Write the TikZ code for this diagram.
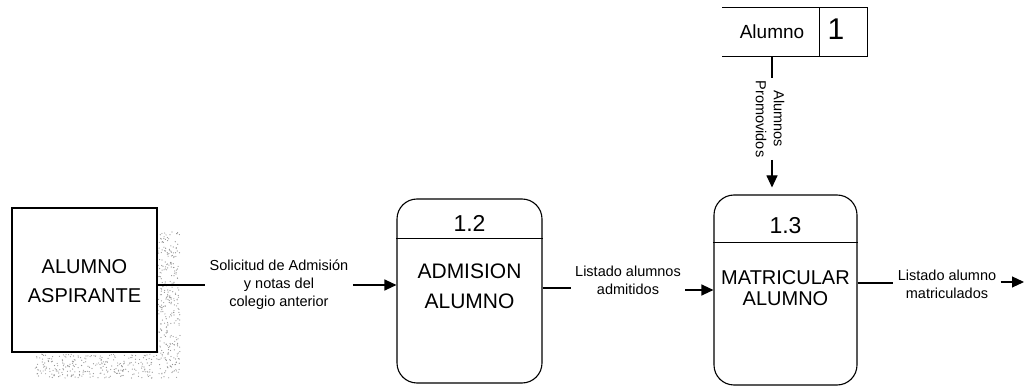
\documentclass[tikz,border=0pt]{standalone}
\usepackage{fontspec}
\setmainfont{Liberation Sans}
\usetikzlibrary{arrows.meta,calc}
\begin{document}
\begin{tikzpicture}[x=1pt,y=-1pt,
  line width=1.1pt,
  boxtxt/.style={font=\fontsize{20}{29}\selectfont,align=center,inner sep=0pt},
  numtxt/.style={font=\fontsize{23}{26}\selectfont,inner sep=0pt},
  lbl/.style={font=\fontsize{14.5}{18}\selectfont,align=center,inner sep=4pt},
  proc/.style={draw,rounded corners=20pt,inner sep=0pt},
  arr/.style={-{Triangle[length=12pt,width=11pt]}}]
\useasboundingbox (0,0) rectangle (1026,387);
% stipple shadow of the external entity
\pgfmathsetseed{7}
\foreach \i in {1,...,300}{\fill[black!42] ({158+22*rnd},{232+146*rnd}) circle (0.6pt);}
\foreach \i in {1,...,270}{\fill[black!42] ({35+123*rnd},{354+24*rnd}) circle (0.6pt);}
% external entity
\node[draw,fill=white,minimum width=145pt,minimum height=144pt,inner sep=0pt] (ent) at (84.5,280) {};
\node[boxtxt,font=\fontsize{20}{29}\selectfont] (enttxt) at (84.5,281) {ALUMNO\\ASPIRANTE};
% process 1.2
\node[proc,minimum width=145pt,minimum height=184pt] (p12) at (469.5,291) {};
\node[numtxt] (n12) at (469.5,223.5) {1.2};
\draw ($(p12.north west)+(0,40)$) coordinate (d12a) -- ($(p12.north east)+(0,40)$) coordinate (d12b);
\node[boxtxt,font=\fontsize{21}{30}\selectfont] (t12) at (469.5,286) {ADMISION\\ALUMNO};
% process 1.3
\node[proc,minimum width=143pt,minimum height=190pt] (p13) at (785.5,290) {};
\node[numtxt] (n13) at (785.5,225.5) {1.3};
\draw ($(p13.north west)+(0,48)$) coordinate (d13a) -- ($(p13.north east)+(0,48)$) coordinate (d13b);
\node[boxtxt,font=\fontsize{20}{21.5}\selectfont] (t13) at (785.5,288) {MATRICULAR\\ALUMNO};
% data store
\node[minimum width=144pt,minimum height=48pt,inner sep=0pt] (st) at (795,32) {};
\draw (st.north west) -- (st.north east) -- (st.south east) -- (st.south west);
\draw ($(st.north east)+(-48,0)$) coordinate (sd1) -- ($(st.south east)+(-48,0)$) coordinate (sd2);
\node[font=\fontsize{19}{22}\selectfont,inner sep=0pt] (stn) at (772,32) {Alumno};
\node[font=\fontsize{30}{32}\selectfont,inner sep=0pt] (sid) at (836,29) {1};
% labels
\node[lbl] (l1) at (279,285) {Solicitud de Admisión\\y notas del\\colegio anterior};
\node[lbl] (l2) at (628,280) {Listado alumnos\\admitidos};
\node[lbl] (l3) at (947,284) {Listado alumno\\matriculados};
\node[lbl,rotate=-90,inner sep=2pt] (l4) at (770,119) {Alumnos\\Promovidos};
% connector levels
\coordinate (y1) at (0,285);
\coordinate (y2a) at (0,288);
\coordinate (y2b) at (0,290);
\coordinate (y3a) at (0,283);
\coordinate (y3b) at (0,282);
\coordinate (out) at (1024,282);
% connectors
\draw (ent.east |- y1) -- (l1.west |- y1);
\draw[arr] (l1.east |- y1) -- (p12.west |- y1);
\draw (p12.east |- y2a) -- (l2.west |- y2a);
\draw[arr] (l2.east |- y2b) -- (p13.west |- y2b);
\draw (p13.east |- y3a) -- (l3.west |- y3a);
\draw[arr] (l3.east |- y3b) -- (out);
\draw (stn |- st.south) -- (stn |- l4.west);
\draw[arr,shorten >=7pt] (stn |- l4.east) -- (stn |- p13.north);
\end{tikzpicture}
\end{document}
